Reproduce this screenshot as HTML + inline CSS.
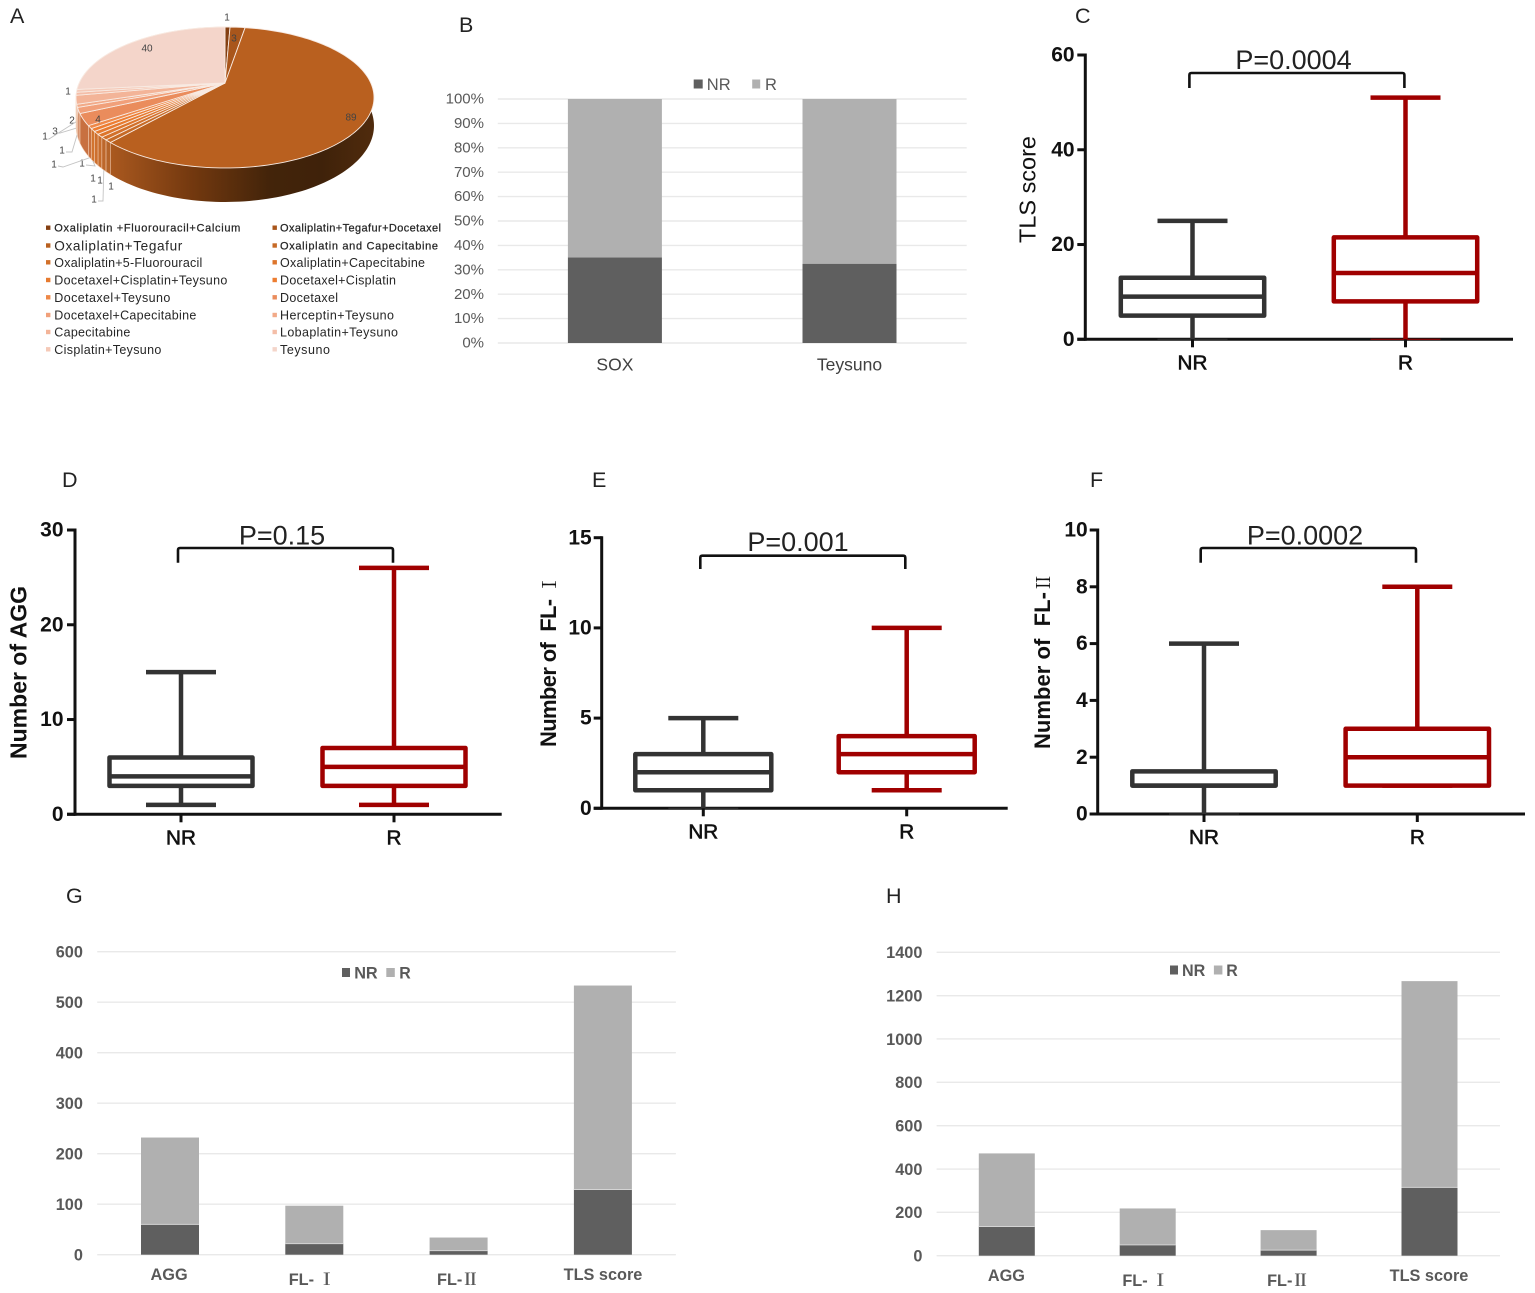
<!DOCTYPE html>
<html lang="en">
<head>
<meta charset="utf-8">
<title>Multi-panel TLS response figure</title>
<style>
html,body{margin:0;padding:0;background:#fff;}
svg{display:block;font-family:"Liberation Sans","Noto Serif CJK SC",sans-serif;}
</style>
</head>
<body>
<svg id="figure" xmlns="http://www.w3.org/2000/svg" width="1535" height="1293" viewBox="0 0 1535 1293">
<defs>
<linearGradient id="mainWall" gradientUnits="userSpaceOnUse" x1="112" y1="0" x2="374" y2="0">
<stop offset="0" stop-color="#a9581f"/>
<stop offset="0.3" stop-color="#74390f"/>
<stop offset="0.6" stop-color="#43240a"/>
<stop offset="0.8" stop-color="#3f220a"/>
<stop offset="1" stop-color="#502b0d"/>
</linearGradient>
</defs>
<rect x="0" y="0" width="1535" height="1293" fill="#ffffff"/>
</svg>
<script>
/* ---------- Panel A data ---------- */
const pieNames = ["Oxaliplatin +Fluorouracil+Calcium","Oxaliplatin+Tegafur+Docetaxel","Oxaliplatin+Tegafur","Oxaliplatin and Capecitabine","Oxaliplatin+5-Fluorouracil","Oxaliplatin+Capecitabine","Docetaxel+Cisplatin+Teysuno","Docetaxel+Cisplatin","Docetaxel+Teysuno","Docetaxel","Docetaxel+Capecitabine","Herceptin+Teysuno","Capecitabine","Lobaplatin+Teysuno","Cisplatin+Teysuno","Teysuno"];
const pieValues = [1,3,89,1,1,1,1,1,1,4,2,1,3,1,1,40];

/* ---------- Panel B data ---------- */
const bCategories = ["SOX","Teysuno"];
const bNR = [35.1,32.5];
const bR = [64.9,67.5];
const bTicks = [0,10,20,30,40,50,60,70,80,90,100];

/* ---------- Panels C-F data ---------- */
const boxGroups = ["NR","R"];
const cHigh = [25,51];
const cQ3 = [13,21.5];
const cMedian = [9,14];
const cQ1 = [5,8];
const cLow = [0,0];
const cTicks = [0,20,40,60];

const dHigh = [15,26];
const dQ3 = [6,7];
const dMedian = [4,5];
const dQ1 = [3,3];
const dLow = [1,1];
const dTicks = [0,10,20,30];

const eHigh = [5,10];
const eQ3 = [3,4];
const eMedian = [2,3];
const eQ1 = [1,2];
const eLow = [0,1];
const eTicks = [0,5,10,15];

const fHigh = [6,8];
const fQ3 = [1.5,3];
const fMedian = [1,2];
const fQ1 = [1,1];
const fLow = [0,1];
const fTicks = [0,2,4,6,8,10];

/* ---------- Panels G-H data ---------- */
const stackCategories = ["AGG","FL- Ⅰ","FL-Ⅱ","TLS score"];
const gNR = [60,22,8,129];
const gR = [172,75,26,404];
const gTicks = [0,100,200,300,400,500,600];
const hNR = [135,50,26,315];
const hR = [337,168,92,952];
const hTicks = [0,200,400,600,800,1000,1200,1400];

/* ---------- helpers ---------- */
const svg = document.getElementById('figure');
const NS = 'http://www.w3.org/2000/svg';
function mk(parent, tag, name, attrs, txt){
  const el = document.createElementNS(NS, tag);
  
  
  for (const k in attrs) el.setAttribute(k, attrs[k]);
  if (txt !== undefined) el.textContent = txt;
  parent.appendChild(el);
  return el;
}
function group(name){ return mk(svg, 'g', name, {}); }
function line(p, name, x1, y1, x2, y2, stroke, w, extra){
  return mk(p, 'line', name, Object.assign({x1:x1,y1:y1,x2:x2,y2:y2,stroke:stroke,'stroke-width':w}, extra||{}));
}
function label(p, name, x, cy, str, size, fill, anchor, extra){
  return mk(p, 'text', name, Object.assign({x:x,y:cy+size*0.36,'font-size':size,fill:fill,'text-anchor':anchor||'middle'}, extra||{}), str);
}

/* panel letters */
const panelLetters = [["A",10,23],["B",459,32],["C",1075,23],["D",62,487],["E",592,487],["F",1090,487],["G",66,903],["H",886,903]];
panelLetters.forEach(function(l){
  mk(svg,'text','panel-letter-'+l[0].toLowerCase(),{x:l[1],y:l[2],'font-size':21.5,fill:'#222222'},l[0]);
});

/* ---------- Panel A: 3D pie ---------- */
(function(){
  const g = group('panel-a-pie-chart');
  const total = pieValues.reduce(function(a,b){return a+b;},0);
  const colors = ["#843f12","#a9561b","#b9601f","#c66a26","#d2702a","#dd752c","#e67a2f","#ed7d31","#ee8848","#ea8c5c","#f1a07a","#f2aa88","#f3b498","#f4bea8","#f5c9b7","#f4d5ca"];
  const wallColors = ["#6d3410","#7e3f12","#8a4718","#b5642a","#bd672b","#c66c2c","#cd702e","#d2742f","#c8703f","#c87040","#d6926f","#deA284","#e0ad96","#e4baa8","#e7c6b7","#e9d0c6"];
  const cx=225, cy=83, C=-0.2057, E=67.5, D=145.8, front=34;
  function P(deg, down){
    const t = deg*Math.PI/180, u=Math.sin(t), v=-Math.cos(t), w=1+C*v;
    const dy = down ? front*(1+C)/w*down : 0;
    return [cx+D*u/w, cy+E*v/w+dy];
  }
  const spans = []; let cum = 0;
  pieValues.forEach(function(val){ const a=cum/total*360; cum+=val; spans.push([a,cum/total*360]); });
  function arc(a,b,down){
    const pts=[], n=Math.max(2,Math.ceil((b-a)/1.5));
    for(let i=0;i<=n;i++){ pts.push(P(a+(b-a)*i/n,down)); }
    return pts;
  }
  function toPath(pts){ return 'M'+pts.map(function(p){return p[0].toFixed(2)+' '+p[1].toFixed(2);}).join('L')+'Z'; }
  spans.forEach(function(s,i){
    const top = arc(s[0],s[1],0), bot = arc(s[0],s[1],1).reverse();
    mk(g,'path','pie-wall-'+(i+1),{d:toPath(top.concat(bot)),fill:i===2?'url(#mainWall)':wallColors[i],stroke:i===2?'none':'#f2cdb4','stroke-width':0.55});
  });
  spans.forEach(function(s,i){
    const pts=[[cx,cy]].concat(arc(s[0],s[1],0));
    mk(g,'path','pie-slice-'+(i+1),{d:toPath(pts),fill:colors[i],stroke:'#f8eae2','stroke-width':0.9,'stroke-linejoin':'round'});
  });
  /* value labels with optional leader lines: label centre and elbow for each slice in order */
  const labelPlaces = [[227,17],[234,38],[351,117],[111,186],[94,199],[100,180],[93,178],[82,163],[54,164],[98,119],[72,120],[62,150],[55,131],[45,136],[68,91],[147,48]];
  const leaderElbows = [null,null,null,null,[103,201],null,null,[95,166],[63,167],null,null,[72,152],[60,133],[49,139],null,null];
  pieValues.forEach(function(val,i){
    const pl = labelPlaces[i];
    label(g,'pie-value-label-'+(i+1),pl[0],pl[1],String(val),10,'#444444');
    const elbow = leaderElbows[i];
    if(elbow){
      const mid=(spans[i][0]+spans[i][1])/2;
      const rim=P(mid,1);
      const startX = pl[0]+4, startY = pl[1]+2;
      mk(g,'polyline','pie-leader-line-'+(i+1),{points:startX+','+startY+' '+elbow[0]+','+elbow[1]+' '+rim[0].toFixed(1)+','+rim[1].toFixed(1),fill:'none',stroke:'#c4c4c4','stroke-width':0.9});
    }
  });
  /* legend */
  const leg = mk(g,'g','pie-legend',{});
  const rowY = [227.7,245.5,262.3,280,297.3,315,332,349.3];
  const leftLen = [186,128,148,173,116,142,76,107];
  const rightLen = [161,158,145,116,58,114,118,50];
  const leftSize = [11,13.6,12.5,12.5,12.5,12.5,12.5,12.5];
  const rightSize = [11,11,12.5,12.5,12.5,12.5,12.5,12.5];
  pieNames.forEach(function(n,i){
    const r = Math.floor(i/2), isRight = i%2===1;
    const sx = isRight?272.5:46, tx = isRight?280:54.3;
    const y = rowY[r];
    const e = mk(leg,'g','legend-entry-'+(i+1),{});
    mk(e,'rect','legend-swatch-'+(i+1),{x:sx,y:y-2.2,width:4.4,height:4.4,fill:colors[i]});
    const size = isRight?rightSize[r]:leftSize[r];
    const extra = {textLength:isRight?rightLen[r]:leftLen[r],lengthAdjust:'spacing'};
    if(size===11){ extra.stroke='#262626'; extra['stroke-width']=0.25; }
    label(e,'legend-label-'+(i+1),tx,y,n,size,'#262626','start',extra);
  });
})();

/* ---------- Panel B: 100% stacked bars ---------- */
(function(){
  const g = group('panel-b-stacked-percent-chart');
  const y0=343, yTop=99, xL=497.8, xR=966.7;
  function Y(v){ return y0-(y0-yTop)*v/100; }
  const barW=94;
  const centers = bCategories.map(function(c,i){ return 614.9+i*234.6; });
  bTicks.forEach(function(t){
    line(g,'gridline-'+t,xL,Y(t),xR,Y(t),'#e9e9e9',1.4);
    label(g,'y-tick-label-'+t,484,Y(t)-0.8,t+'%',15,'#595959','end');
  });
  bCategories.forEach(function(c,i){
    const x=centers[i]-barW/2;
    mk(g,'rect','bar-nr-'+c.toLowerCase(),{x:x,y:Y(bNR[i]),width:barW,height:y0-Y(bNR[i]),fill:'#5f5f5f'});
    mk(g,'rect','bar-r-'+c.toLowerCase(),{x:x,y:Y(bNR[i]+bR[i]),width:barW,height:Y(bNR[i])-Y(bNR[i]+bR[i]),fill:'#b0b0b0'});
    label(g,'x-tick-label-'+c.toLowerCase(),centers[i],364,c,17.5,'#404040');
  });
  mk(g,'rect','legend-swatch-nr',{x:693.7,y:79.5,width:9,height:9,fill:'#5f5f5f'});
  label(g,'legend-label-nr',706.8,84,'NR',16.5,'#595959','start');
  mk(g,'rect','legend-swatch-r',{x:752.2,y:79.5,width:8,height:9,fill:'#b0b0b0'});
  label(g,'legend-label-r',765,84,'R',16.5,'#595959','start');
})();

/* ---------- Panels C-F: box plots ---------- */
function boxPanel(o){
  const g = group('panel-'+o.id+'-box-plot');
  const yMax = o.ticks[o.ticks.length-1];
  function Y(v){ return o.y0-(o.y0-o.yTop)*v/yMax; }
  line(g,'y-axis',o.axisX,o.yTop-1.5,o.axisX,o.y0+1.5,'#111111',3);
  line(g,'x-axis',o.axisX-8,o.y0,o.xEnd,o.y0,'#111111',3);
  o.ticks.forEach(function(t){
    line(g,'y-tick-'+t,o.axisX-8,Y(t),o.axisX,Y(t),'#111111',3);
    label(g,'y-tick-label-'+t,o.tickX,Y(t)-1,String(t),21,'#111111','end',{'font-weight':'bold'});
  });
  boxGroups.forEach(function(name,i){
    const c=o.centers[i], col=i===0?'#333333':'#a00000', key=name.toLowerCase();
    const hw=o.boxHalf, cw=35;
    line(g,'whisker-upper-'+key,c,Y(o.high[i]),c,Y(o.q3[i]),col,4.5);
    line(g,'whisker-lower-'+key,c,Y(o.q1[i]),c,Y(o.low[i]),col,4.5);
    line(g,'cap-upper-'+key,c-cw,Y(o.high[i]),c+cw,Y(o.high[i]),col,4.5);
    line(g,'cap-lower-'+key,c-cw,Y(o.low[i]),c+cw,Y(o.low[i]),col,o.low[i]===0?1:4.5);
    mk(g,'rect','box-'+key,{x:c-hw,y:Y(o.q3[i]),width:hw*2,height:Y(o.q1[i])-Y(o.q3[i]),fill:'#ffffff',stroke:col,'stroke-width':4.5,'stroke-linejoin':'round'});
    line(g,'median-'+key,c-hw,Y(o.median[i]),c+hw,Y(o.median[i]),col,4.5);
    line(g,'x-tick-'+key,c,o.y0,c,o.y0+8,'#111111',3);
    label(g,'x-tick-label-'+key,c,o.y0+22.5,name,20.7,'#111111','middle',{stroke:'#111111','stroke-width':0.6});
  });
  mk(g,'path','significance-bracket',{d:'M'+o.br[0]+' '+o.br[3]+'V'+(o.br[2]+2)+'Q'+o.br[0]+' '+o.br[2]+' '+(o.br[0]+2)+' '+o.br[2]+'H'+(o.br[1]-2)+'Q'+o.br[1]+' '+o.br[2]+' '+o.br[1]+' '+(o.br[2]+2)+'V'+o.br[3],fill:'none',stroke:'#111111','stroke-width':2.6});
  mk(g,'text','p-value-label',{x:o.pX,y:o.pY,'font-size':27,fill:'#222222','text-anchor':'middle'},o.p);
  const t = mk(g,'text','y-axis-title',{transform:'translate('+o.titleX+','+o.titleC+') rotate(-90)','text-anchor':'middle','font-size':o.titleSize,fill:'#111111','font-weight':o.titleWeight,textLength:o.titleLen,lengthAdjust:'spacing',style:'white-space:pre'});
  o.title.forEach(function(part){
    mk(t,'tspan','y-axis-title-part',part[1]?{'font-family':'"Noto Serif CJK SC","Liberation Serif",serif','font-weight':'normal','font-size':o.titleSize-3}:{},part[0]);
  });
}
boxPanel({id:'c',axisX:1085.3,yTop:55,y0:339.3,xEnd:1513,tickX:1074.6,centers:[1192.5,1405.5],boxHalf:71.7,ticks:cTicks,high:cHigh,q3:cQ3,median:cMedian,q1:cQ1,low:cLow,br:[1189.4,1404.4,73,88],pX:1293.5,pY:69,p:'P=0.0004',titleX:1035.5,titleC:189.5,titleLen:107,titleSize:23.5,titleWeight:'normal',title:[['TLS score',0]]});
boxPanel({id:'d',axisX:75,yTop:530,y0:814.3,xEnd:501.7,tickX:63.5,centers:[181,394],boxHalf:71.5,ticks:dTicks,high:dHigh,q3:dQ3,median:dMedian,q1:dQ1,low:dLow,br:[178,393,548,562.7],pX:282,pY:544.7,p:'P=0.15',titleX:26.7,titleC:672.5,titleLen:173,titleSize:23,titleWeight:'bold',title:[['Number of AGG',0]]});
boxPanel({id:'e',axisX:601.7,yTop:537.7,y0:808.3,xEnd:1007.7,tickX:591.7,centers:[703.3,906.7],boxHalf:68,ticks:eTicks,high:eHigh,q3:eQ3,median:eMedian,q1:eQ1,low:eLow,br:[700.3,905.3,555.7,569],pX:798,pY:551,p:'P=0.001',titleX:556,titleC:661,titleLen:172,titleSize:22,titleWeight:'bold',title:[['Number of  FL- ',0],['Ⅰ',1]]});
boxPanel({id:'f',axisX:1097.7,yTop:530,y0:814,xEnd:1525,tickX:1087.7,centers:[1204,1417.3],boxHalf:71.7,ticks:fTicks,high:fHigh,q3:fQ3,median:fMedian,q1:fQ1,low:fLow,br:[1200.7,1416,548,562.7],pX:1305,pY:544.7,p:'P=0.0002',titleX:1050,titleC:661,titleLen:176,titleSize:22,titleWeight:'bold',title:[['Number of  FL-',0],['Ⅱ',1]]});

/* ---------- Panels G-H: stacked bars ---------- */
function stackPanel(o){
  const g = group('panel-'+o.id+'-stacked-bar-chart');
  const yMax = o.ticks[o.ticks.length-1];
  function Y(v){ return o.y0-(o.y0-o.yTop)*v/yMax; }
  o.ticks.forEach(function(t){
    line(g,'gridline-'+t,o.xL,Y(t),o.xR,Y(t),'#e9e9e9',1.4);
    label(g,'y-tick-label-'+t,o.tickX,Y(t),String(t),16.3,'#595959','end',{'font-weight':'bold'});
  });
  stackCategories.forEach(function(c,i){
    const key=['agg','fl-1','fl-2','tls-score'][i];
    const x=o.start+i*o.step;
    mk(g,'rect','bar-nr-'+key,{x:x,y:Y(o.nr[i]),width:o.w,height:o.y0-Y(o.nr[i]),fill:'#5f5f5f'});
    mk(g,'rect','bar-r-'+key,{x:x,y:Y(o.nr[i]+o.r[i]),width:o.w,height:Y(o.nr[i])-Y(o.nr[i]+o.r[i]),fill:'#b0b0b0'});
    mk(g,'line','bar-separator-'+key,{x1:x,y1:Y(o.nr[i]),x2:x+o.w,y2:Y(o.nr[i]),stroke:'#d4d4d4','stroke-width':1});
    label(g,'x-tick-label-'+key,o.labelX[i],o.labelY[i],c,16.3,'#595959','middle',{'font-weight':'bold'});
  });
  mk(g,'rect','legend-swatch-nr',{x:o.leg[0],y:o.legY-4.5,width:8,height:9,fill:'#5f5f5f'});
  label(g,'legend-label-nr',o.leg[1],o.legY,'NR',16.3,'#595959','start',{'font-weight':'bold',textLength:o.legW,lengthAdjust:'spacingAndGlyphs'});
  mk(g,'rect','legend-swatch-r',{x:o.leg[2],y:o.legY-4.5,width:8.5,height:9,fill:'#b0b0b0'});
  label(g,'legend-label-r',o.leg[3],o.legY,'R',16.3,'#595959','start',{'font-weight':'bold',textLength:11.5,lengthAdjust:'spacingAndGlyphs'});
}
stackPanel({id:'g',xL:97.2,xR:675.9,y0:1254.7,yTop:951.7,tickX:82.9,start:141,step:144.3,w:58,ticks:gTicks,nr:gNR,r:gR,labelX:[169.1,311.8,457.8,603],labelY:[1274,1279,1279,1274],leg:[342,354.2,386.3,399.3],legY:972.5,legW:23.5});
stackPanel({id:'h',xL:936.6,xR:1500,y0:1255.7,yTop:952.3,tickX:922.4,start:978.8,step:140.9,w:56,ticks:hTicks,nr:hNR,r:hR,labelX:[1006.4,1145.4,1287.9,1429],labelY:[1275,1280,1280,1275],leg:[1170,1182,1213.9,1226.3],legY:970,legW:23.3});
</script>
</body>
</html>
